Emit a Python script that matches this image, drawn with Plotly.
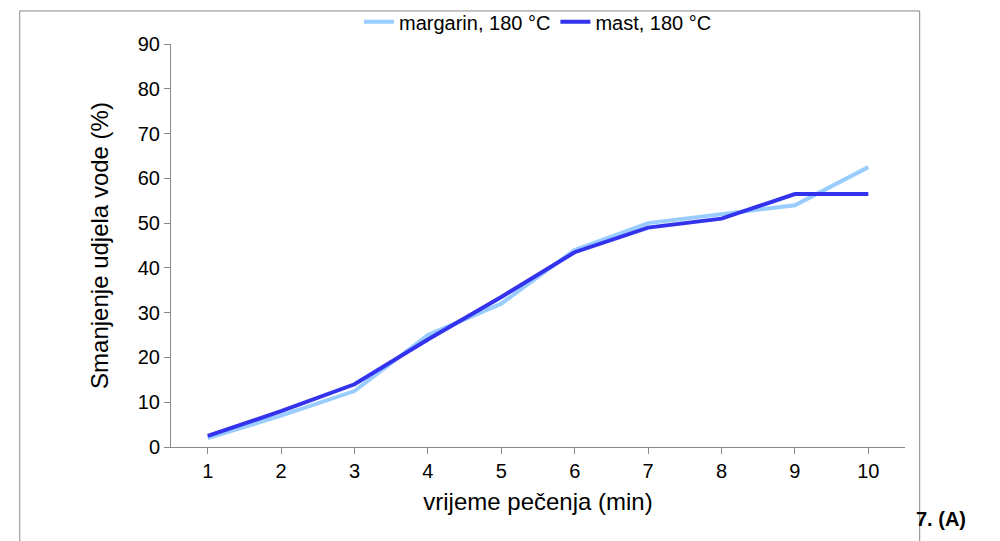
import plotly.graph_objects as go

minutes = [1, 2, 3, 4, 5, 6, 7, 8, 9, 10]
margarin = [2, 7, 12.5, 25, 32, 44, 50, 52, 54, 62.5]
mast = [2.5, 8, 14, 24, 33.5, 43.5, 49, 51, 56.5, 56.5]

fig = go.Figure()
fig.add_trace(go.Scatter(x=[str(m) for m in minutes], y=margarin, mode='lines',
                         name='margarin, 180 °C', line=dict(color='#99ccff', width=4)))
fig.add_trace(go.Scatter(x=[str(m) for m in minutes], y=mast, mode='lines',
                         name='mast, 180 °C', line=dict(color='#3333ee', width=4)))

fig.update_layout(
    width=1000, height=541,
    margin=dict(l=163, r=103, t=36, b=102, autoexpand=False),
    paper_bgcolor='white', plot_bgcolor='white',
    font=dict(family='Liberation Sans, Arial', size=20, color='black'),
    legend=dict(orientation='h', x=0.5, xanchor='center', y=1.055, yanchor='middle',
                font=dict(size=20), bgcolor='rgba(0,0,0,0)'),
    xaxis=dict(type='category', range=[-0.5, 9.5], showline=True, linecolor='#888',
               ticks='outside', tickcolor='#888', ticklen=6, showgrid=False,
               tickfont=dict(size=20),
               title=dict(text='vrijeme pečenja (min)', standoff=12)),
    yaxis=dict(range=[0, 90], dtick=10, showline=True, linecolor='#888', ticks='outside',
               tickcolor='#888', ticklen=6, showgrid=False, tickfont=dict(size=20),
               title=dict(text='Smanjenje udjela vode (%)', standoff=22)),
)
fig.add_shape(type='rect', xref='paper', yref='paper', x0=-0.206, x1=1.02,
              y0=-0.26, y1=1.082, line=dict(color='#888', width=1))
fig.add_annotation(text='<b>7. (A)</b>', xref='paper', yref='paper', x=1.012, xanchor='left',
                   y=-0.212, yanchor='bottom', showarrow=False, font=dict(size=20))
fig.write_html('out.html')
